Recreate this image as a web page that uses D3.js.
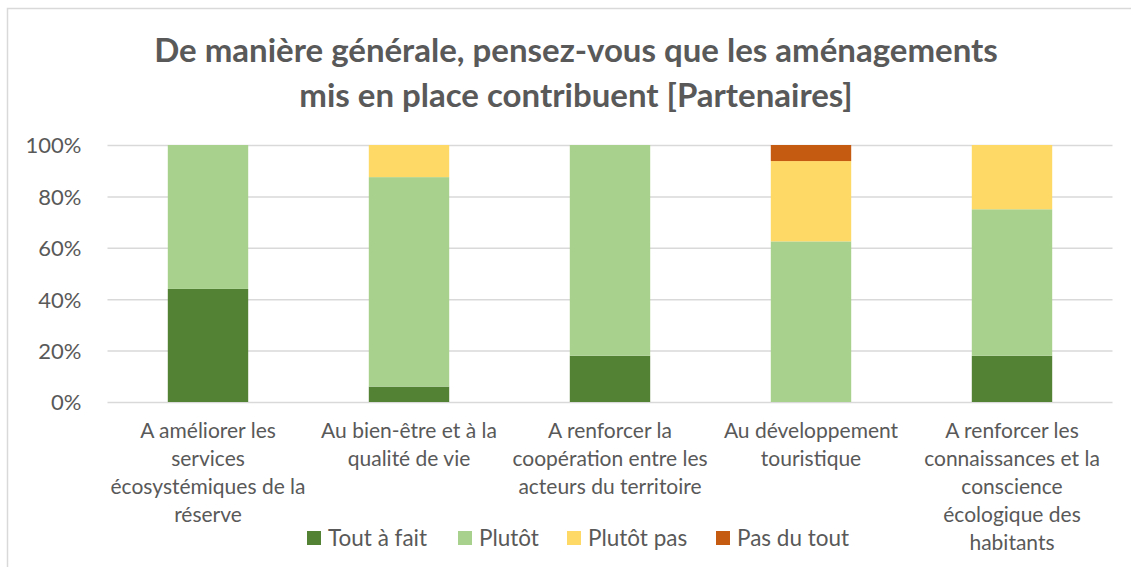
<!DOCTYPE html>
<html>
<head>
    <meta charset="UTF-8">
    <style>
        * { margin: 0; padding: 0; }
        body { background: #fff; width: 1131px; height: 567px; overflow: hidden; }
        svg text { font-family: Lato, "Open Sans", sans-serif; fill: #595959; }
    </style>
    <script src="https://d3js.org/d3.v7.min.js"></script>
    <title>Aménagements - Partenaires</title>
</head>
<body>
<svg id="chart" width="1131" height="567"></svg>
<script>
    // data (percent)
    var categories = [
        ["A améliorer les", "services", "écosystémiques de la", "réserve"],
        ["Au bien-être et à la", "qualité de vie"],
        ["A renforcer la", "coopération entre les", "acteurs du territoire"],
        ["Au développement", "touristique"],
        ["A renforcer les", "connaissances et la", "conscience", "écologique des", "habitants"]
    ];
    var seriesNames = ["Tout à fait", "Plutôt", "Plutôt pas", "Pas du tout"];
    var toutAFait  = [44, 6, 18, 0, 18];
    var plutot     = [56, 81.5, 82, 62.5, 57];
    var plutotPas  = [0, 12.5, 0, 31.25, 25];
    var pasDuTout  = [0, 0, 0, 6.25, 0];
    var yTicks = [0, 20, 40, 60, 80, 100];
    var colors = ["#548235", "#a9d18e", "#ffd966", "#c55a11"];

    var svg = d3.select("#chart");

    // outer chart border (cut off at right/bottom like the original)
    svg.append("rect")
        .attr("x", 7.5).attr("y", 8.5)
        .attr("width", 1200).attr("height", 700)
        .attr("fill", "none").attr("stroke", "#d9d9d9").attr("stroke-width", 1.5);

    svg.append("text")
        .attr("x", 576).attr("y", 62)
        .attr("text-anchor", "middle")
        .attr("font-size", "33px").attr("font-weight", "bold")
        .text("De manière générale, pensez-vous que les aménagements");
    svg.append("text")
        .attr("x", 576).attr("y", 107)
        .attr("text-anchor", "middle")
        .attr("font-size", "33px").attr("font-weight", "bold")
        .text("mis en place contribuent [Partenaires]");

    var plotL = 107.5, plotR = 1112.5, plotT = 145, plotB = 402;

    var x = d3.scaleBand()
        .domain(d3.range(categories.length))
        .range([plotL, plotR])
        .paddingInner(0.6).paddingOuter(0.3);
    var y = d3.scaleLinear().domain([0, 100]).range([plotB, plotT]);

    var rows = categories.map(function (c, i) {
        return { i: i, s0: toutAFait[i], s1: plutot[i], s2: plutotPas[i], s3: pasDuTout[i] };
    });
    var layers = d3.stack().keys(["s0", "s1", "s2", "s3"])(rows);

    // grid + y labels
    var yAxis = svg.append("g")
        .attr("transform", "translate(" + plotL + ",0)")
        .call(d3.axisLeft(y).tickValues(yTicks)
            .tickSize(-(plotR - plotL)).tickPadding(26)
            .tickFormat(function (d) { return d + "%"; }));
    yAxis.select(".domain").remove();
    yAxis.selectAll("line").attr("stroke", "#d9d9d9").attr("stroke-width", 1.5);
    yAxis.selectAll("text")
        .attr("font-size", "22px")
        .attr("font-family", null)
        .attr("fill", "#595959")
        .attr("dy", "0.36em");

    svg.append("g").selectAll("g")
        .data(layers)
        .enter().append("g")
        .attr("fill", function (d, i) { return colors[i]; })
        .selectAll("rect")
        .data(function (d) { return d; })
        .enter().append("rect")
        .attr("x", function (d) { return x(d.data.i); })
        .attr("y", function (d) { return y(d[1]); })
        .attr("width", x.bandwidth())
        .attr("height", function (d) { return y(d[0]) - y(d[1]); });

    // category labels
    var labels = svg.append("g").selectAll("text")
        .data(categories)
        .enter().append("text")
        .attr("text-anchor", "middle")
        .attr("font-size", "21px")
        .attr("transform", function (d, i) {
            return "translate(" + (x(i) + x.bandwidth() / 2) + ",438)";
        });
    labels.selectAll("tspan")
        .data(function (d) { return d; })
        .enter().append("tspan")
        .attr("x", 0)
        .attr("y", function (d, j) { return j * 28; })
        .text(function (d) { return d; });

    // legend
    var legendX = [307, 458, 567, 716];
    var lg = svg.append("g").selectAll("g")
        .data(seriesNames)
        .enter().append("g")
        .attr("transform", function (d, i) { return "translate(" + legendX[i] + ",531)"; });
    lg.append("rect")
        .attr("width", 14).attr("height", 14)
        .attr("fill", function (d, i) { return colors[i]; });
    lg.append("text")
        .attr("x", 21).attr("y", 15)
        .attr("font-size", "22.5px")
        .text(function (d) { return d; });
</script>
</body>
</html>
